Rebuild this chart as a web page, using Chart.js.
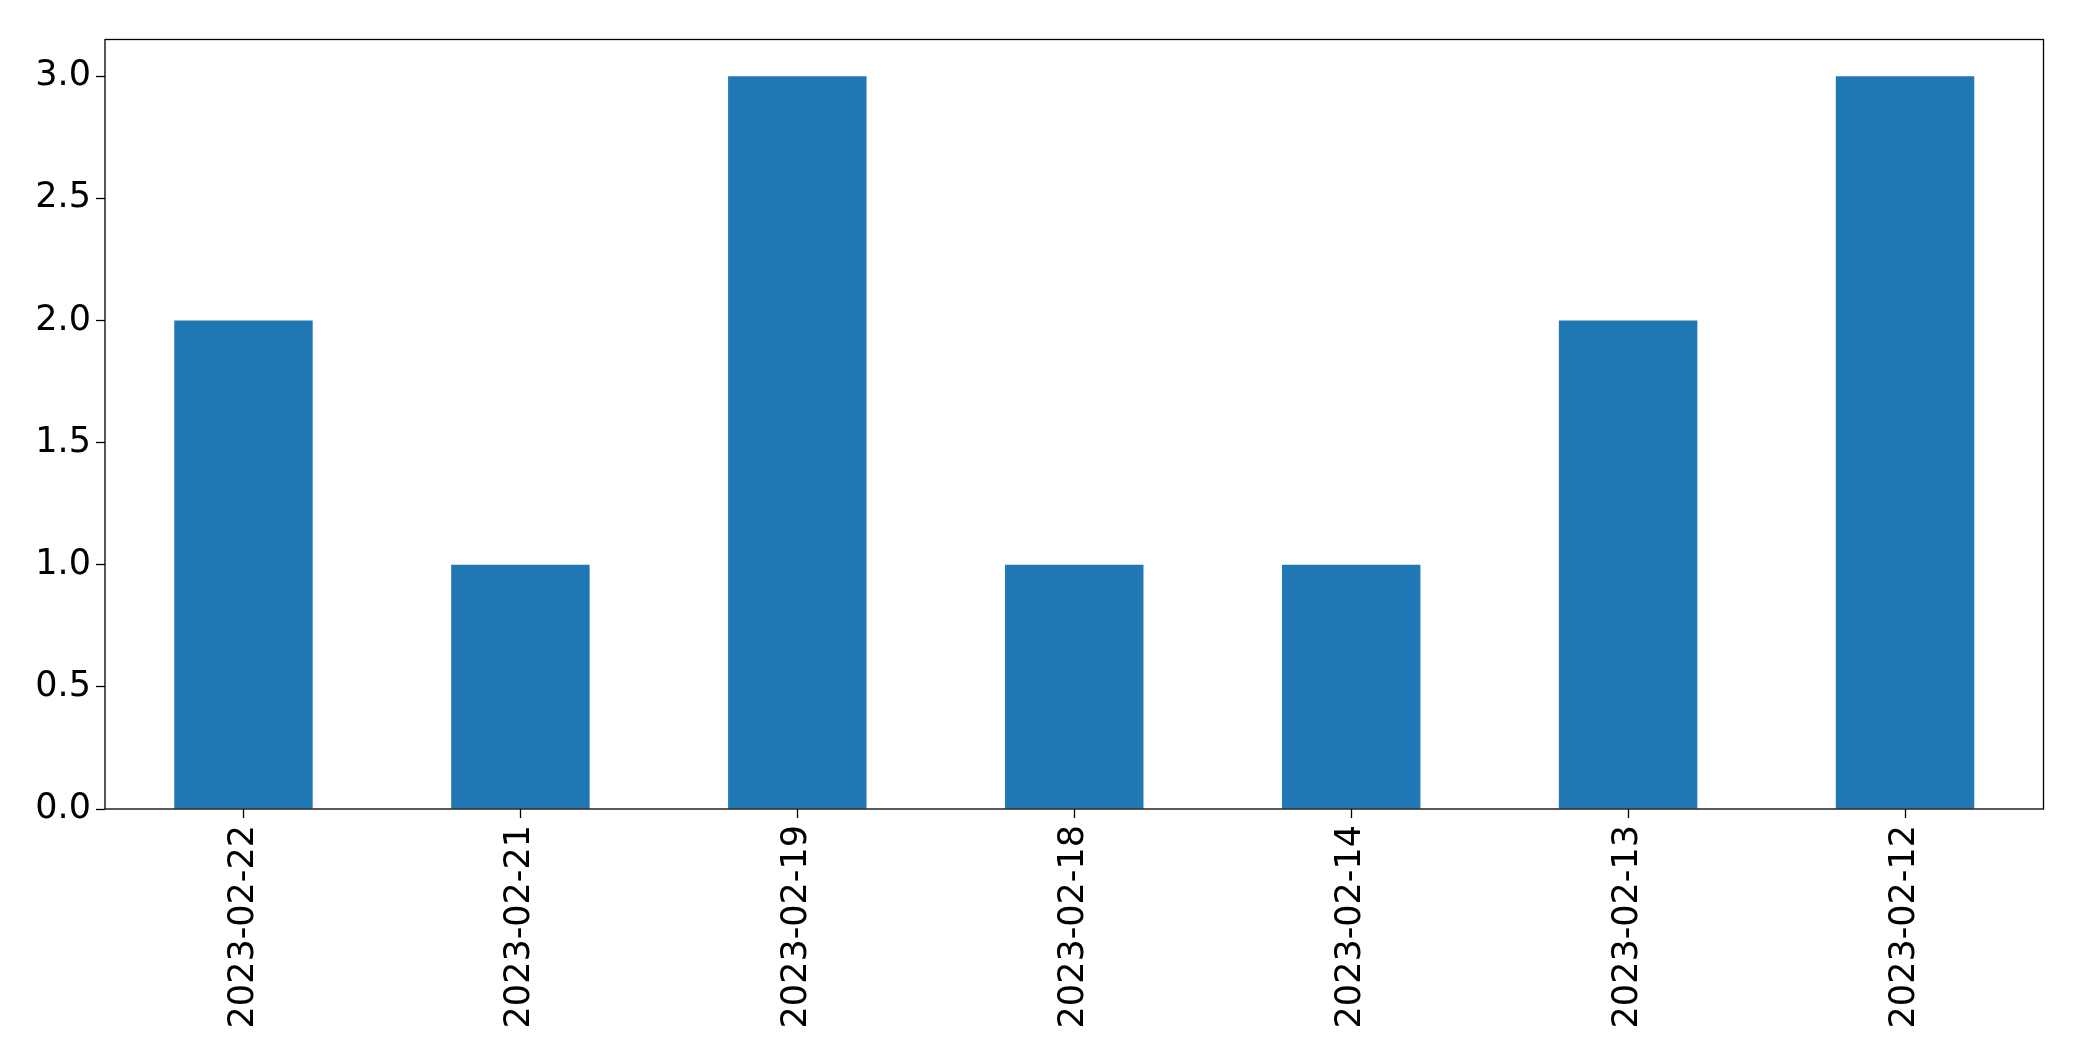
<!DOCTYPE html>
<html>
<head>
<meta charset="utf-8">
<script src="https://cdn.jsdelivr.net/npm/chart.js@4.4.0/dist/chart.umd.min.js"></script>
<style>
    html, body { margin: 0; padding: 0; background: #fff; }
    #wrap { width: 2082px; height: 1061px; }
</style>
</head>
<body>
<div id="wrap"><canvas id="barChart" width="2082" height="1061"></canvas></div>
<script>
// data
const dates = ['2023-02-22', '2023-02-21', '2023-02-19', '2023-02-18', '2023-02-14', '2023-02-13', '2023-02-12'];
const counts = [2, 1, 3, 1, 1, 2, 3];
const yTicks = [0, 0.5, 1, 1.5, 2, 2.5, 3];

// draws the black box round the plot area
const frame = {
    id: 'frame',
    afterDraw(chart) {
        const { ctx, chartArea: a } = chart;
        ctx.save();
        ctx.strokeStyle = '#000';
        ctx.lineWidth = 1.3;
        ctx.strokeRect(a.left, a.top, a.right - a.left, a.bottom - a.top);
        ctx.restore();
    }
};

const font = { family: 'DejaVu Sans', size: 35 };

new Chart(document.getElementById('barChart'), {
    type: 'bar',
    data: {
        labels: dates,
        datasets: [{
            data: counts,
            backgroundColor: '#1f77b4',
            borderWidth: 0,
            barPercentage: 0.5,
            categoryPercentage: 1.0
        }]
    },
    options: {
        responsive: false,
        animation: false,
        layout: { padding: { top: 39.5, right: 38.5, left: 0, bottom: 0 } },
        plugins: { legend: { display: false }, tooltip: { enabled: false } },
        scales: {
            x: {
                offset: true,
                grid: { offset: false, drawOnChartArea: false, tickLength: 9, tickColor: '#000', tickWidth: 1.3 },
                border: { display: false },
                ticks: { color: '#000', font: font, minRotation: 90, maxRotation: 90, padding: 7, autoSkip: false },
                afterFit(axis) { axis.height = 252; }
            },
            y: {
                min: 0,
                max: 3.15,
                grid: { drawOnChartArea: false, tickLength: 9, tickColor: '#000', tickWidth: 1.3 },
                border: { display: false },
                afterBuildTicks(axis) { axis.ticks = yTicks.map(v => ({ value: v })); },
                ticks: {
                    color: '#000',
                    font: font,
                    padding: 5,
                    callback: v => Number(v).toFixed(1)
                },
                afterFit(axis) { axis.width = 105; }
            }
        }
    },
    plugins: [frame]
});
</script>
</body>
</html>
